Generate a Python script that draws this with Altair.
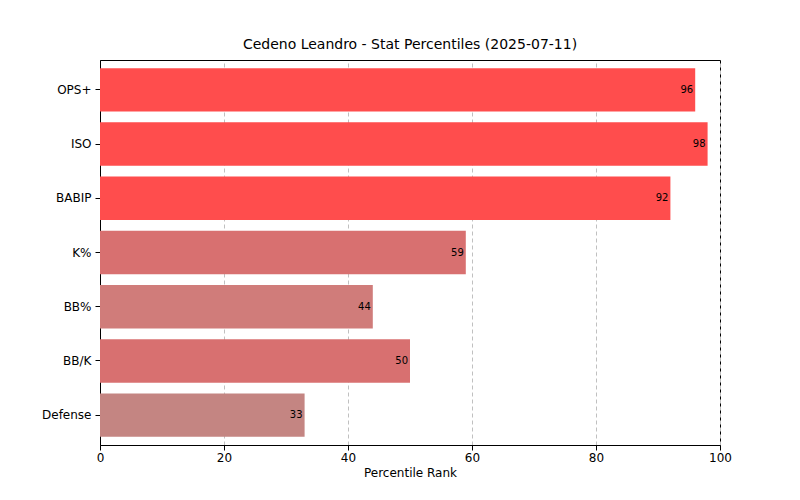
import altair as alt
import pandas as pd

stats = ["OPS+", "ISO", "BABIP", "K%", "BB%", "BB/K", "Defense"]
values = [96, 98, 92, 59, 44, 50, 33]
colors = ["#ff4d4d", "#ff4d4d", "#ff4d4d", "#d87070", "#d07c7a", "#d87070", "#c48582"]

df = pd.DataFrame({"stat": stats, "value": values, "color": colors})

y = alt.Y("stat:N", sort=stats, title=None,
          scale=alt.Scale(paddingInner=0.2, paddingOuter=0.15),
          axis=alt.Axis(labelFontSize=12, labelColor="black", tickColor="black",
                        domainColor="black", labelFont="DejaVu Sans", labelPadding=4))
x = alt.X("value:Q", title="Percentile Rank",
          scale=alt.Scale(domain=[0, 100], nice=False),
          axis=alt.Axis(values=[0, 20, 40, 60, 80, 100], grid=True, gridDash=[4, 3],
                        gridColor="#c0c0c0", labelFontSize=12, titleFontSize=12,
                        titleFontWeight="normal", labelColor="black", titleColor="black",
                        tickColor="black", domainColor="black", labelFont="DejaVu Sans",
                        titleFont="DejaVu Sans", labelFlush=False))

bars = alt.Chart(df).mark_bar().encode(x=x, y=y, color=alt.Color("color:N", scale=None))
text = alt.Chart(df).mark_text(align="right", dx=-2, fontSize=10, font="DejaVu Sans",
                               color="black").encode(x="value:Q", y=alt.Y("stat:N", sort=stats), text="value:Q")

chart = (bars + text).properties(
    width=620, height=385,
    title=alt.TitleParams("Cedeno Leandro - Stat Percentiles (2025-07-11)", fontSize=14,
                          fontWeight="normal", font="DejaVu Sans", offset=8),
    autosize=alt.AutoSizeParams(type="none"),
    padding={"left": 92, "top": 52, "right": 72, "bottom": 47},
).configure_view(stroke="black", strokeWidth=1).configure_axisY(grid=False)

chart.save("out.html", embed_options={"renderer": "svg", "actions": False})
